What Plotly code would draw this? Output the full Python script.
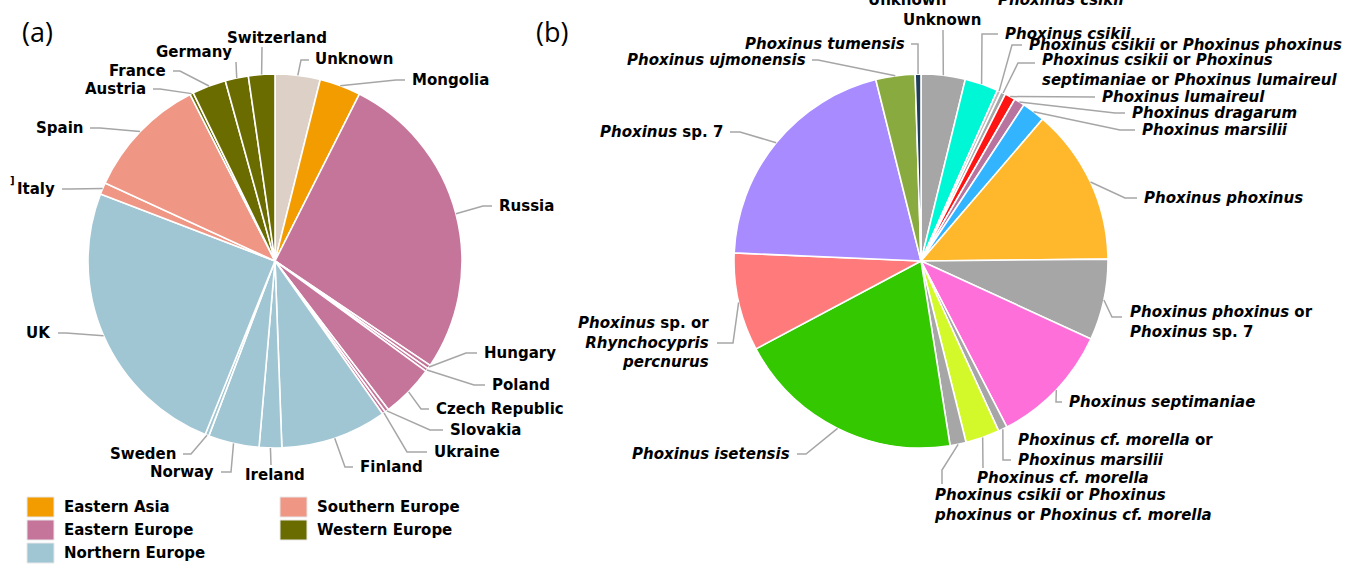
import math
import plotly.graph_objects as go

W, H = 1355, 564

# ---------------- data: panel (a) ----------------
countries = ["Unknown", "Mongolia", "Russia", "Hungary", "Poland", "Czech Republic",
             "Slovakia", "Ukraine", "Finland", "Ireland", "Norway", "Sweden", "UK",
             "Italy", "Spain", "Austria", "France", "Germany", "Switzerland"]
country_values = [14.0, 12.8, 97.0, 1.2, 1.0, 16.5, 1.2, 1.0, 33.0, 7.0, 15.8, 1.2, 89.0,
                  3.6, 38.3, 1.1, 10.5, 7.2, 8.2]
country_region = ["Unknown", "Eastern Asia", "Eastern Europe", "Eastern Europe", "Eastern Europe",
                  "Eastern Europe", "Eastern Europe", "Eastern Europe", "Northern Europe",
                  "Northern Europe", "Northern Europe", "Northern Europe", "Northern Europe",
                  "Southern Europe", "Southern Europe", "Western Europe", "Western Europe",
                  "Western Europe", "Western Europe"]
regions = ["Eastern Asia", "Eastern Europe", "Northern Europe", "Southern Europe", "Western Europe"]

# ---------------- data: panel (b) ----------------
species = [
    "Unknown",
    "<i>Phoxinus csikii</i>",
    "<i>Phoxinus csikii</i> or <i>Phoxinus phoxinus</i>",
    "<i>Phoxinus csikii</i> or <i>Phoxinus</i><br><i>septimaniae</i> or <i>Phoxinus lumaireul</i>",
    "<i>Phoxinus lumaireul</i>",
    "<i>Phoxinus dragarum</i>",
    "<i>Phoxinus marsilii</i>",
    "<i>Phoxinus phoxinus</i>",
    "<i>Phoxinus phoxinus</i> or<br><i>Phoxinus</i> sp. 7",
    "<i>Phoxinus septimaniae</i>",
    "<i>Phoxinus cf. morella</i> or<br><i>Phoxinus marsilii</i>",
    "<i>Phoxinus cf. morella</i>",
    "<i>Phoxinus csikii</i> or <i>Phoxinus</i><br><i>phoxinus</i> or <i>Phoxinus cf. morella</i>",
    "<i>Phoxinus isetensis</i>",
    "<i>Phoxinus</i> sp. or<br><i>Rhynchocypris</i><br><i>percnurus</i>",
    "<i>Phoxinus</i> sp. 7",
    "<i>Phoxinus ujmonensis</i>",
    "<i>Phoxinus tumensis</i>",
]
species_values = [13.7, 10.4, 1.2, 1.5, 3.3, 3.3, 7.2, 48.8, 25.2, 38.0, 2.8, 10.6, 5.0,
                  70.9, 30.5, 73.5, 12.2, 1.8]

# ---------------- styles ----------------
region_colors = {"Unknown": "#DDD1C7", "Eastern Asia": "#F39C00", "Eastern Europe": "#C5749A",
                 "Northern Europe": "#A0C5D3", "Southern Europe": "#EF9684",
                 "Western Europe": "#6B6C00"}
species_colors = ["#A6A6A6", "#00F7D6", "#BDBDBD", "#A6A6A6", "#FF1414", "#B8739E", "#33B4FF",
                  "#FFB72B", "#A6A6A6", "#FF6FD9", "#A6A6A6", "#D4F92B", "#A6A6A6", "#33C800",
                  "#FF7B7B", "#A78BFF", "#88AA3E", "#1F3F58"]

FONT = "DejaVu Sans"
LINE = "#A6A6A6"
R = 187
CA = (275, 261)
CB = (921, 261)

# label layout (pixel positions): x, y, xanchor, leader points after slice edge
labels_a = [
    (313, 59, "left", [(301, 60), (309, 60)]),
    (410, 80, "left", [(396, 80), (405, 80)]),
    (497, 206, "left", [(483, 206), (492, 206)]),
    (482, 353, "left", [(466, 353), (477, 353)]),
    (490, 385, "left", [(474, 385), (485, 385)]),
    (434, 409, "left", [(421, 409), (429, 409)]),
    (448, 430, "left", [(430, 430), (443, 430)]),
    (432, 452, "left", [(407, 452), (427, 452)]),
    (358, 467, "left", [(345, 467), (353, 467)]),
    (275, 475, "center", [(271, 465)]),
    (216, 472, "right", [(231, 472), (221, 472)]),
    (178, 454, "right", [(191, 454), (183, 454)]),
    (53, 333, "right", [(66, 333), (58, 333)]),
    (57, 189, "right", [(70, 189), (62, 189)]),
    (85, 128, "right", [(100, 128), (90, 128)]),
    (148, 89, "right", [(160, 89), (153, 89)]),
    (168, 71, "right", [(180, 71), (173, 71)]),
    (234, 52, "right", [(236, 62)]),
    (277, 38, "center", [(262, 47)]),
]
labels_b = [
    (942, 20, "center", [(943, 30)]),
    (1003, 34, "left", [(982, 34), (998, 34)]),
    (1027, 45, "left", [(1012, 45), (1022, 45)]),
    (1040, 70, "left", [(1018, 63), (1035, 63)]),
    (1100, 97, "left", [(1095, 97)]),
    (1130, 113, "left", [(1115, 113), (1125, 113)]),
    (1140, 130, "left", [(1120, 130), (1135, 130)]),
    (1142, 198, "left", [(1125, 198), (1137, 198)]),
    (1128, 322, "left", [(1112, 317), (1122, 317)]),
    (1067, 402, "left", [(1056, 402), (1062, 402)]),
    (1016, 450, "left", [(1003, 460), (1011, 460)]),
    (975, 478, "left", [(983, 468)]),
    (932, 505, "left", [(942, 470), (942, 484)]),
    (792, 454, "right", [(806, 454), (797, 454)]),
    (711, 342, "right", [(733, 343), (717, 343)]),
    (725, 132, "right", [(740, 132), (730, 132)]),
    (808, 60, "right", [(818, 60), (812, 60)]),
    (907, 44, "right", [(918, 44), (911, 44)]),
]


def px(x):
    return x / W


def py(y):
    return 1 - y / H


def edge_points(values, center):
    total = sum(values)
    cum = 0.0
    pts = []
    for v in values:
        mid = (cum + v / 2) / total * 2 * math.pi
        pts.append((center[0] + R * math.sin(mid), center[1] - R * math.cos(mid)))
        cum += v
    return pts


def domain(center):
    return dict(x=[px(center[0] - R), px(center[0] + R)],
                y=[py(center[1] + R), py(center[1] - R)])


fig = go.Figure()
fig.add_trace(go.Pie(
    labels=countries, values=country_values, sort=False, direction="clockwise", rotation=0,
    marker=dict(colors=[region_colors[r] for r in country_region],
                line=dict(color="white", width=1.6)),
    textinfo="none", hoverinfo="label+value", showlegend=False, domain=domain(CA)))
fig.add_trace(go.Pie(
    labels=species, values=species_values, sort=False, direction="clockwise", rotation=0,
    marker=dict(colors=species_colors, line=dict(color="white", width=1.6)),
    textinfo="none", hoverinfo="label+value", showlegend=False, domain=domain(CB)))

shapes = []
annotations = []


def bold(size=15):
    return dict(family=FONT, size=size, color="black", weight="bold")


def add_labels(texts, values, center, layout):
    pts = edge_points(values, center)
    for text, p, (tx, ty, anchor, leader) in zip(texts, pts, layout):
        path = "M %.5f,%.5f" % (px(p[0]), py(p[1]))
        for (lx, ly) in leader:
            path += " L %.5f,%.5f" % (px(lx), py(ly))
        shapes.append(dict(type="path", path=path, xref="paper", yref="paper",
                           line=dict(color=LINE, width=1.5)))
        annotations.append(dict(x=px(tx), y=py(ty), xref="paper", yref="paper",
                                text=text, showarrow=False, xanchor=anchor, yanchor="middle",
                                align=anchor, font=bold()))


add_labels(countries, country_values, CA, labels_a)
add_labels(species, species_values, CB, labels_b)

# cropped remnants of the source figure
annotations.append(dict(x=px(907), y=py(0), xref="paper", yref="paper", text="Unknown",
                        showarrow=False, xanchor="center", yanchor="middle", font=bold()))
annotations.append(dict(x=px(996), y=py(0), xref="paper", yref="paper",
                        text="<i>Phoxinus csikii</i>", showarrow=False, xanchor="left",
                        yanchor="middle", font=bold()))
annotations.append(dict(x=px(12), y=py(180), xref="paper", yref="paper", text="]",
                        showarrow=False, xanchor="center", yanchor="middle", font=bold(10)))

# panel labels
for t, x in [("(a)", 37), ("(b)", 552)]:
    annotations.append(dict(x=px(x), y=py(32), xref="paper", yref="paper", text=t,
                            showarrow=False, xanchor="center", yanchor="middle",
                            font=dict(family="Open Sans", size=27, color="black")))

# legend (region colours)
legend_slots = [(27, 507), (27, 530), (27, 553), (280, 507), (280, 530)]
for reg, (lx, ly) in zip(regions, legend_slots):
    shapes.append(dict(type="rect", xref="paper", yref="paper",
                       x0=px(lx), x1=px(lx + 27), y0=py(ly + 10), y1=py(ly - 10),
                       fillcolor=region_colors[reg], line=dict(color="#E8E8E8", width=1)))
    annotations.append(dict(x=px(lx + 35), y=py(ly), xref="paper", yref="paper", text=reg,
                            showarrow=False, xanchor="left", yanchor="middle", font=bold()))

fig.update_layout(width=W, height=H, margin=dict(l=0, r=0, t=0, b=0),
                  paper_bgcolor="white", plot_bgcolor="white",
                  shapes=shapes, annotations=annotations, showlegend=False)

fig.write_html("out.html", config={"displayModeBar": False},
               post_script="document.body.style.margin='0';document.body.style.overflow='hidden';")
